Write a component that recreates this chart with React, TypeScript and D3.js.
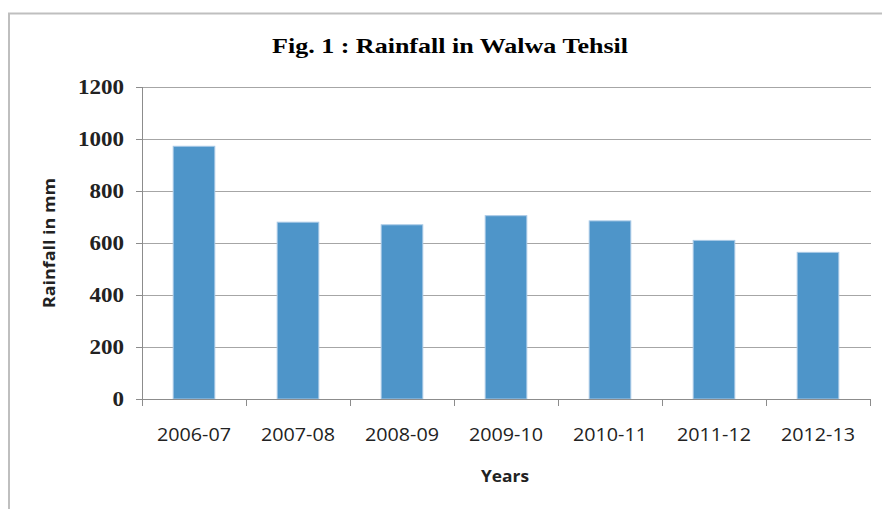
import React, { useEffect, useRef } from 'react';
import * as d3 from 'd3';

const years = ['2006-07', '2007-08', '2008-09', '2009-10', '2010-11', '2011-12', '2012-13'];
const rainfall = [972, 680, 670, 705, 685, 610, 564];
const yTicks = [0, 200, 400, 600, 800, 1000, 1200];

const App: React.FC = () => {
  const svgRef = useRef<SVGSVGElement>(null);

  useEffect(() => {
    const svg = d3.select(svgRef.current);
    svg.selectAll('*').remove();

    const left = 142, right = 870, top = 87, bottom = 399;

    // outer chart frame
    svg.append('rect')
      .attr('x', 9).attr('y', 13.5)
      .attr('width', 900).attr('height', 520)
      .attr('fill', '#fff')
      .attr('stroke', '#bfbfbf')
      .attr('stroke-width', 2);

    svg.append('text')
      .attr('x', 450).attr('y', 53)
      .attr('text-anchor', 'middle')
      .attr('font-family', '"Liberation Serif", serif')
      .attr('font-weight', 'bold')
      .attr('font-size', 21)
      .attr('textLength', 356)
      .attr('lengthAdjust', 'spacingAndGlyphs')
      .text('Fig. 1 : Rainfall in Walwa Tehsil');

    const x = d3.scaleBand().domain(years).range([left, right]).paddingInner(0.6).paddingOuter(0.3);
    const y = d3.scaleLinear().domain([0, 1200]).range([bottom, top]);

    // gridlines
    svg.append('g')
      .selectAll('line')
      .data(yTicks.filter(t => t > 0))
      .join('line')
      .attr('x1', left).attr('x2', right + 1)
      .attr('y1', d => Math.round(y(d)) + 0.5)
      .attr('y2', d => Math.round(y(d)) + 0.5)
      .attr('stroke', '#a6a6a6')
      .attr('stroke-width', 1.2);

    // y axis
    const yAxis = svg.append('g');
    yAxis.append('line')
      .attr('x1', left + 0.5).attr('x2', left + 0.5)
      .attr('y1', top).attr('y2', bottom + 7)
      .attr('stroke', '#8c8c8c');
    yAxis.selectAll('line.tick')
      .data(yTicks)
      .join('line')
      .attr('class', 'tick')
      .attr('x1', left - 6).attr('x2', left)
      .attr('y1', d => Math.round(y(d)) + 0.5)
      .attr('y2', d => Math.round(y(d)) + 0.5)
      .attr('stroke', '#8c8c8c');
    yAxis.selectAll('text')
      .data(yTicks)
      .join('text')
      .attr('x', 124)
      .attr('y', d => y(d))
      .attr('dy', '0.35em')
      .attr('text-anchor', 'end')
      .attr('font-family', '"Liberation Serif", serif')
      .attr('font-weight', 'bold')
      .attr('font-size', 20)
      .attr('fill', '#222')
      .attr('textLength', d => String(d).length * 11.5)
      .attr('lengthAdjust', 'spacingAndGlyphs')
      .text(d => String(d));

    // bars
    svg.append('g')
      .selectAll('rect')
      .data(rainfall)
      .join('rect')
      .attr('x', (d, i) => x(years[i])!)
      .attr('y', d => y(d))
      .attr('width', x.bandwidth())
      .attr('height', d => bottom - y(d))
      .attr('fill', '#4e95c9')
      .attr('stroke', '#a8c9e6')
      .attr('stroke-width', 1);

    // x axis
    const step = (right - left) / years.length;
    const xAxis = svg.append('g');
    xAxis.append('line')
      .attr('x1', left - 6).attr('x2', right + 1)
      .attr('y1', bottom + 0.5).attr('y2', bottom + 0.5)
      .attr('stroke', '#8c8c8c');
    xAxis.selectAll('line.tick')
      .data(d3.range(years.length + 1))
      .join('line')
      .attr('class', 'tick')
      .attr('x1', i => left + i * step + 0.5)
      .attr('x2', i => left + i * step + 0.5)
      .attr('y1', bottom).attr('y2', bottom + 7)
      .attr('stroke', '#8c8c8c');
    xAxis.selectAll('text')
      .data(years)
      .join('text')
      .attr('x', d => x(d)! + x.bandwidth() / 2)
      .attr('y', 441)
      .attr('text-anchor', 'middle')
      .attr('font-family', '"Open Sans", sans-serif')
      .attr('font-size', 18)
      .attr('fill', '#222')
      .attr('textLength', 74)
      .attr('lengthAdjust', 'spacingAndGlyphs')
      .text(d => d);

    svg.append('text')
      .attr('x', 505).attr('y', 482)
      .attr('text-anchor', 'middle')
      .attr('font-family', '"Open Sans", sans-serif')
      .attr('font-weight', 'bold')
      .attr('font-size', 16)
      .attr('fill', '#222')
      .attr('textLength', 48)
      .attr('lengthAdjust', 'spacingAndGlyphs')
      .text('Years');

    svg.append('text')
      .attr('transform', 'translate(55,243) rotate(-90)')
      .attr('text-anchor', 'middle')
      .attr('font-family', '"Open Sans", sans-serif')
      .attr('font-weight', 'bold')
      .attr('font-size', 16)
      .attr('fill', '#222')
      .attr('textLength', 130)
      .attr('lengthAdjust', 'spacingAndGlyphs')
      .text('Rainfall in mm');
  }, []);

  return (
    <svg ref={svgRef} width={882} height={509}
      style={{ position: 'absolute', left: 0, top: 0, background: '#fff' }} />
  );
};

export default App;
